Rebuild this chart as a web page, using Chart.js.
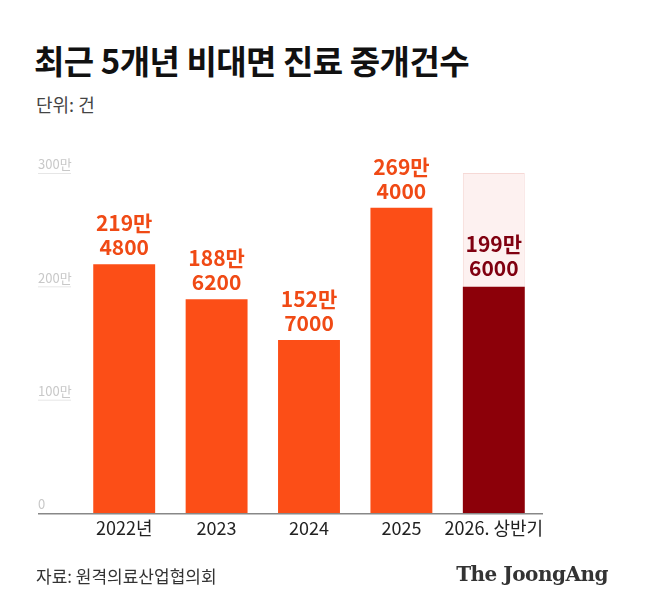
<!DOCTYPE html>
<html>
<head>
<meta charset="utf-8">
<script src="https://cdn.jsdelivr.net/npm/chart.js@4"></script>
<style>
  body { margin: 0; background: #fff; font-family: "Noto Sans CJK KR", sans-serif; }
  #wrap { position: relative; width: 650px; height: 615px; }
  #chart { position: absolute; left: 0; top: 0; }
  .title { position: absolute; left: 34px; top: 36px; font-size: 33px; font-weight: 700; color: #111; letter-spacing: -0.5px; }
  .unit { position: absolute; left: 36px; top: 91px; font-size: 18px; color: #444; }
  .source { position: absolute; left: 36px; top: 563px; font-size: 17px; color: #333; }
  .logo { position: absolute; right: 42px; top: 562px; font-family: "DejaVu Serif", serif; font-size: 20px; font-weight: 700; color: #333; letter-spacing: -0.5px; }
</style>
</head>
<body>
<div id="wrap">
  <div class="title">최근 5개년 비대면 진료 중개건수</div>
  <div class="unit">단위: 건</div>
  <canvas id="chart" width="650" height="615"></canvas>
  <div class="source">자료: 원격의료산업협의회</div>
  <div class="logo">The JoongAng</div>
</div>
<script>
// Chart data
var categories = ["2022년", "2023", "2024", "2025", "2026. 상반기"];
var counts = [2194800, 1886200, 1527000, 2694000, 1996000];
var valueLabels = [["219만", "4800"], ["188만", "6200"], ["152만", "7000"], ["269만", "4000"], ["199만", "6000"]];
var projected = [null, null, null, null, 3000000];
var yTicks = [0, 1000000, 2000000, 3000000];
var yTickLabels = ["0", "100만", "200만", "300만"];

var barColors = ["#fc4e17", "#fc4e17", "#fc4e17", "#fc4e17", "#8c0009"];
var labelColors = ["#f04a15", "#f04a15", "#f04a15", "#f04a15", "#800010"];

// Draws y labels, axis line, category labels and values
var decorations = {
    id: 'decorations',
    afterDatasetsDraw: function(chart) {
        var ctx = chart.ctx;
        var x = chart.scales.x, y = chart.scales.y;
        ctx.save();
        ctx.font = '13px "Noto Sans CJK KR"';
        ctx.textAlign = 'left';
        ctx.textBaseline = 'bottom';
        yTicks.forEach(function(v, i) {
            var py = y.getPixelForValue(v);
            ctx.fillStyle = '#c8c8c8';
            ctx.fillText(yTickLabels[i], 38, py - 2);
            if (v > 0) {
                ctx.fillStyle = '#e6e6e6';
                ctx.fillRect(38, py, 33, 1);
            }
        });
        ctx.fillStyle = '#888';
        ctx.fillRect(38, y.getPixelForValue(0), 505, 1.5);

        ctx.fillStyle = '#222';
        ctx.font = '18px "Noto Sans CJK KR"';
        ctx.textAlign = 'center';
        ctx.textBaseline = 'middle';
        categories.forEach(function(c, i) {
            ctx.fillText(c, x.getPixelForValue(i), 528);
        });

        ctx.font = 'bold 21px "Noto Sans CJK KR"';
        ctx.textBaseline = 'alphabetic';
        counts.forEach(function(v, i) {
            var px = x.getPixelForValue(i);
            var top = y.getPixelForValue(v);
            ctx.fillStyle = labelColors[i];
            if (i === 4) {
                ctx.fillText(valueLabels[i][0], px, top - 35);
                ctx.fillText(valueLabels[i][1], px, top - 11);
            } else {
                ctx.fillText(valueLabels[i][0], px, top - 33);
                ctx.fillText(valueLabels[i][1], px, top - 9);
            }
        });
        ctx.restore();
    }
};

new Chart(document.getElementById('chart'), {
    type: 'bar',
    data: {
        labels: categories,
        datasets: [{
            data: counts,
            backgroundColor: barColors,
            order: 1
        }, {
            data: projected,
            backgroundColor: '#fdf1f0',
            borderColor: '#f6d9d6',
            borderWidth: 1,
            order: 2
        }]
    },
    options: {
        responsive: false,
        animation: false,
        layout: { padding: { left: 78, right: 110, top: 173, bottom: 102 } },
        datasets: { bar: { grouped: false, categoryPercentage: 1, barPercentage: 0.67 } },
        plugins: { legend: { display: false }, tooltip: { enabled: false } },
        scales: {
            x: { display: false },
            y: { display: false, min: 0, max: 3000000 }
        }
    },
    plugins: [decorations]
});
</script>
</body>
</html>
